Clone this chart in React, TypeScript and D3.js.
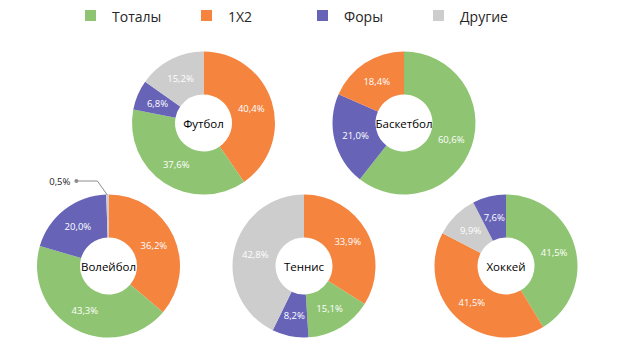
import React from "react";
import * as d3 from "d3";

const legendCategories = ["Тоталы", "1X2", "Форы", "Другие"];
const categoryColors = ["#8fc572", "#f5843f", "#6764b8", "#cdcdcd"];

const sportNames = ["Футбол", "Баскетбол", "Волейбол", "Теннис", "Хоккей"];
const footballCats = ["1X2", "Тоталы", "Форы", "Другие"];
const footballValues = [40.4, 37.6, 6.8, 15.2];
const basketballCats = ["Тоталы", "Форы", "1X2"];
const basketballValues = [60.6, 21.0, 18.4];
const volleyballCats = ["1X2", "Тоталы", "Форы", "Другие"];
const volleyballValues = [36.2, 43.3, 20.0, 0.5];
const tennisCats = ["1X2", "Тоталы", "Форы", "Другие"];
const tennisValues = [33.9, 15.1, 8.2, 42.8];
const hockeyCats = ["Тоталы", "1X2", "Другие", "Форы"];
const hockeyValues = [41.5, 41.5, 9.9, 7.6];

const W = 618;
const H = 356;
const R_OUT = 71.5;
const R_IN = 28.5;
const centers: [number, number][] = [
  [203.5, 123],
  [404, 123],
  [108.5, 266],
  [304, 266],
  [506, 266],
];

const color = d3.scaleOrdinal<string, string>().domain(legendCategories).range(categoryColors);
const fmt = (v: number) => v.toFixed(1).replace(".", ",") + "%";
const font = "'Open Sans', 'Noto Sans', sans-serif";

type Slice = { cat: string; value: number };

function Donut({ cx, cy, name, cats, values }: { cx: number; cy: number; name: string; cats: string[]; values: number[] }) {
  const data: Slice[] = cats.map((c, i) => ({ cat: c, value: values[i] }));
  const pie = d3.pie<Slice>().value((d) => d.value).sort(null);
  const arcs = pie(data);
  const arc = d3.arc<d3.PieArcDatum<Slice>>().innerRadius(R_IN).outerRadius(R_OUT);
  const labelArc = d3
    .arc<d3.PieArcDatum<Slice>>()
    .innerRadius((R_IN + R_OUT) / 2)
    .outerRadius((R_IN + R_OUT) / 2);
  return (
    <g transform={`translate(${cx},${cy})`}>
      {arcs.map((a, i) => (
        <path key={i} d={arc(a) || ""} fill={color(a.data.cat)} />
      ))}
      {arcs.map((a, i) => {
        if (a.data.value < 2) {
          // small slice: outside label with leader line
          const mid = (a.startAngle + a.endAngle) / 2;
          const px = Math.sin(mid) * (R_OUT - 0.5);
          const py = -Math.cos(mid) * (R_OUT - 0.5);
          const ex = px - 10;
          const ey = py - 14;
          const dx = ex - 21;
          return (
            <g key={"l" + i}>
              <polyline points={`${px},${py} ${ex},${ey} ${dx},${ey}`} fill="none" stroke="#8c8c8c" strokeWidth={1} />
              <circle cx={dx} cy={ey} r={2} fill="#8c8c8c" />
              <text x={dx - 6} y={ey} textAnchor="end" dominantBaseline="central" fontSize={9.5} fontFamily={font} fill="#262626">
                {fmt(a.data.value)}
              </text>
            </g>
          );
        }
        const [x, y] = labelArc.centroid(a);
        return (
          <text key={"l" + i} x={x} y={y} textAnchor="middle" dominantBaseline="central" fontSize={9.5} fontFamily={font} fill="#ffffff">
            {fmt(a.data.value)}
          </text>
        );
      })}
      <text x={0} y={0} textAnchor="middle" dominantBaseline="central" fontSize={11.5} fontFamily={font} fill="#000000">
        {name}
      </text>
    </g>
  );
}

export default function App() {
  const sports = [
    { cats: footballCats, values: footballValues },
    { cats: basketballCats, values: basketballValues },
    { cats: volleyballCats, values: volleyballValues },
    { cats: tennisCats, values: tennisValues },
    { cats: hockeyCats, values: hockeyValues },
  ];
  const legendX = [85, 201, 317, 433];
  return (
    <svg width={W} height={H} style={{ position: "absolute", left: 0, top: 0, background: "#ffffff" }}>
      <rect width={W} height={H} fill="#ffffff" />
      {legendCategories.map((c, i) => (
        <g key={c} transform={`translate(${legendX[i]},10)`}>
          <rect x={0} y={0} width={11} height={11} fill={color(c)} />
          <text x={27} y={6} dominantBaseline="central" fontSize={14} fontFamily={font} fill="#262626">
            {c}
          </text>
        </g>
      ))}
      {sports.map((s, i) => (
        <Donut key={i} cx={centers[i][0]} cy={centers[i][1]} name={sportNames[i]} cats={s.cats} values={s.values} />
      ))}
    </svg>
  );
}
